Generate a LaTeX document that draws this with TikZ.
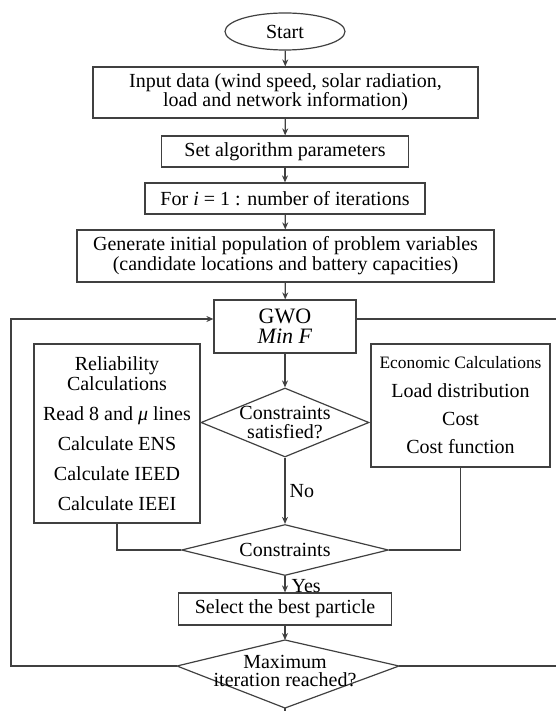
\documentclass[tikz,border=0pt]{standalone}
\usepackage{fontspec}
\setmainfont{Liberation Serif}
\usetikzlibrary{shapes.geometric,arrows.meta}

\begin{document}
\begin{tikzpicture}[x=0.5pt,y=-0.5pt,
   font=\fontsize{10}{10}\selectfont,
   line/.style={draw=black!75,line width=0.6pt},
   box/.style={line,rectangle,inner sep=0pt,align=center},
   dia/.style={line,diamond,inner sep=0pt},
   arr/.style={line,-{Stealth[length=3.5pt,width=3pt]}}]
\useasboundingbox (0,0) rectangle (556,711);
\node[line,ellipse,inner sep=0pt,minimum width=60pt,minimum height=18.5pt] (start) at (285,31.5) {Start};
\node[box,minimum width=192.5pt,minimum height=25.5pt,font=\fontsize{10}{9.5}\selectfont] (input) at (285.5,92.5)
   {Input data (wind speed, solar radiation,\\load and network information)};
\node[box,minimum width=123.5pt,minimum height=15.5pt] (param) at (285,151.5) {Set algorithm parameters};
\node[box,minimum width=140pt,minimum height=15.5pt] (loop) at (285,198.5) {For \textit{i} = 1 : number of iterations};
\node[box,minimum width=208.5pt,minimum height=26pt] (gen) at (285.5,256)
   {Generate initial population of problem variables\\(candidate locations and battery capacities)};
\node[box,minimum width=71pt,minimum height=26.5pt,font=\fontsize{11}{10}\selectfont] (gwo) at (285,326.5) {GWO\\\textit{Min F}};
\node[box,minimum width=83pt,minimum height=89.5pt] (rel) at (117,433.5)
   {Reliability\\Calculations\\[5pt]Read 8 and \textit{μ} lines\\[5pt]Calculate ENS\\[5pt]Calculate IEED\\[5pt]Calculate IEEI};
\node[box,minimum width=89.5pt,minimum height=61.5pt] (eco) at (460.5,405.5)
   {{\fontsize{8.7}{10}\selectfont Economic Calculations}\\[4.5pt]Load distribution\\[4pt]Cost\\[4pt]Cost function};
\node[dia,minimum width=84pt,minimum height=34.5pt,
   label={[align=center,font=\fontsize{10}{9.5}\selectfont]center:Constraints\\satisfied?}] (sat) at (285,422.5) {};
\node[dia,minimum width=103.5pt,minimum height=25.5pt,label=center:Constraints] (cons) at (285,550) {};
\node[box,minimum width=106.5pt,minimum height=16pt] (best) at (285,609) {Select the best particle};
\coordinate (maxt) at (285,640);
\coordinate (maxr) at (399,666);
\coordinate (maxb) at (285,708);
\coordinate (maxl) at (177,666);
\draw[line] (maxt) -- (maxr) -- (maxb) -- (maxl) -- cycle;
\node[align=center,font=\fontsize{10}{9}\selectfont] (max) at (285,671) {Maximum\\iteration reached?};
\coordinate (backl) at (11,666);
\coordinate (outr) at (556,666);
\coordinate (topr) at (556,319);
\coordinate (endb) at (285,711);

\draw[arr] (start) -- (input);
\draw[arr] (input) -- (param);
\draw[arr] (param) -- (loop);
\draw[arr] (loop) -- (gen);
\draw[arr] (gen) -- (gwo);
\draw[arr] (gwo) -- (sat);
\draw[arr] (sat) -- node[right,inner sep=2pt] (no) {No} (cons);
\draw[arr] (cons) -- node[right,inner sep=3pt,yshift=-1pt] (yes) {Yes} (best);
\draw[arr] (best) -- (maxt);
\draw[line] (rel) |- (cons);
\draw[line] (eco) |- (cons);
\draw[arr] (maxl) -- (backl) |- ([yshift=3.75pt]gwo.west);
\draw[line] ([yshift=3.75pt]gwo.east) -- (topr);
\draw[line] (maxr) -- (outr);
\draw[line] (maxb) -- (endb);
\end{tikzpicture}
\end{document}
